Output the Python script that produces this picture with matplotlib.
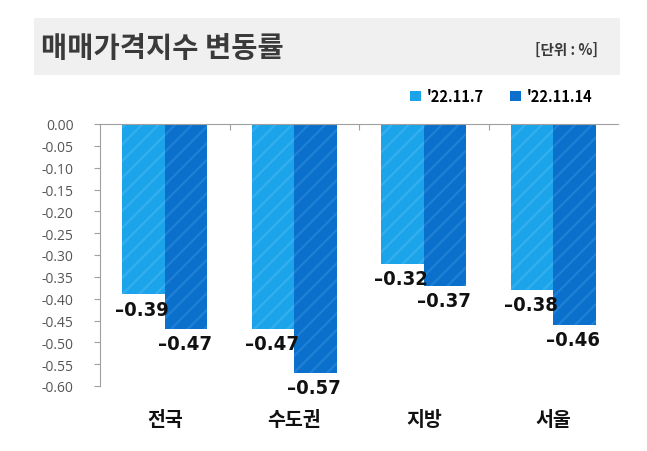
import matplotlib
matplotlib.use("Agg")
import matplotlib.pyplot as plt
from matplotlib.patches import Rectangle, Patch
import numpy as np

plt.rcParams['font.family'] = ['Noto Sans CJK KR', 'DejaVu Sans']
plt.rcParams['hatch.linewidth'] = 1.6

categories = ["전국", "수도권", "지방", "서울"]
week1 = [-0.39, -0.47, -0.32, -0.38]
week2 = [-0.47, -0.57, -0.37, -0.46]
series_names = ["'22.11.7", "'22.11.14"]
yticks = np.round(np.arange(0, -0.601, -0.05), 2)

light = "#1ba4e9"
dark = "#0a70cb"
light_hatch = "#33aff0"
dark_hatch = "#1f80d6"

fig = plt.figure(figsize=(6.47, 4.52), dpi=100)

# header band
fig.patches.append(Rectangle((34 / 647, 1 - 76 / 452), 586 / 647, 57 / 452,
                             transform=fig.transFigure, facecolor="#f0f0f0",
                             edgecolor="none", zorder=0))
fig.text(41 / 647, 1 - 49 / 452, "매매가격지수 변동률", fontsize=20.5,
         fontweight="bold", color="#3a3a3a", va="center", ha="left")
fig.text(598 / 647, 1 - 50 / 452, "[단위 : %]", fontsize=10.5,
         fontweight="bold", color="#3a3a3a", va="center", ha="right")

ax = fig.add_axes([100 / 647, 1 - 387 / 452, 518 / 647, 262 / 452])
x = np.arange(len(categories))
w = 0.33
b1 = ax.bar(x - w / 2, week1, w, color=light, edgecolor=light_hatch,
            linewidth=0, hatch="//", zorder=2)
b2 = ax.bar(x + w / 2, week2, w, color=dark, edgecolor=dark_hatch,
            linewidth=0, hatch="//", zorder=2)

for bars, vals in ((b1, week1), (b2, week2)):
    for bar, v in zip(bars, vals):
        ax.text(bar.get_x() + bar.get_width() / 2 - 0.01, v - 0.012,
                f"{v:.2f}".replace("-", "–"),
                ha="center", va="top", fontsize=14.5, fontweight="bold",
                fontstretch="condensed", family="DejaVu Sans", color="#111111")

ax.set_xlim(-0.5, len(categories) - 0.5)
ax.set_ylim(-0.6, 0)
ax.set_yticks(yticks)
ax.set_yticklabels([f"{t:.2f}" if t != 0 else "0.00" for t in yticks],
                   family=["Open Sans", "DejaVu Sans"], fontsize=10, color="#555555")
ax.tick_params(axis="y", direction="out", length=4, color="#a0a0a0", pad=15)

ax.xaxis.tick_top()
ax.set_xticks([0.5, 1.5, 2.5])
ax.set_xticklabels([])
ax.tick_params(axis="x", direction="in", length=4, color="#a0a0a0")

for i, c in enumerate(categories):
    ax.text(i, -0.676, c, ha="center", va="center", fontsize=14,
            fontweight="bold", color="#111111")

for s in ("right", "bottom"):
    ax.spines[s].set_visible(False)
ax.spines["left"].set_color("#a0a0a0")
ax.spines["top"].set_color("#a0a0a0")

handles = [Patch(facecolor=light, edgecolor="none"), Patch(facecolor=dark, edgecolor="none")]
fig.legend(handles, series_names, loc="center right", ncol=2,
           bbox_to_anchor=(606 / 647, 1 - 97 / 452), frameon=False,
           handlelength=0.75, handleheight=0.75, handletextpad=0.4,
           columnspacing=1.8, prop={"weight": "bold", "size": 10.5})

fig.savefig("out.png", dpi=100)
